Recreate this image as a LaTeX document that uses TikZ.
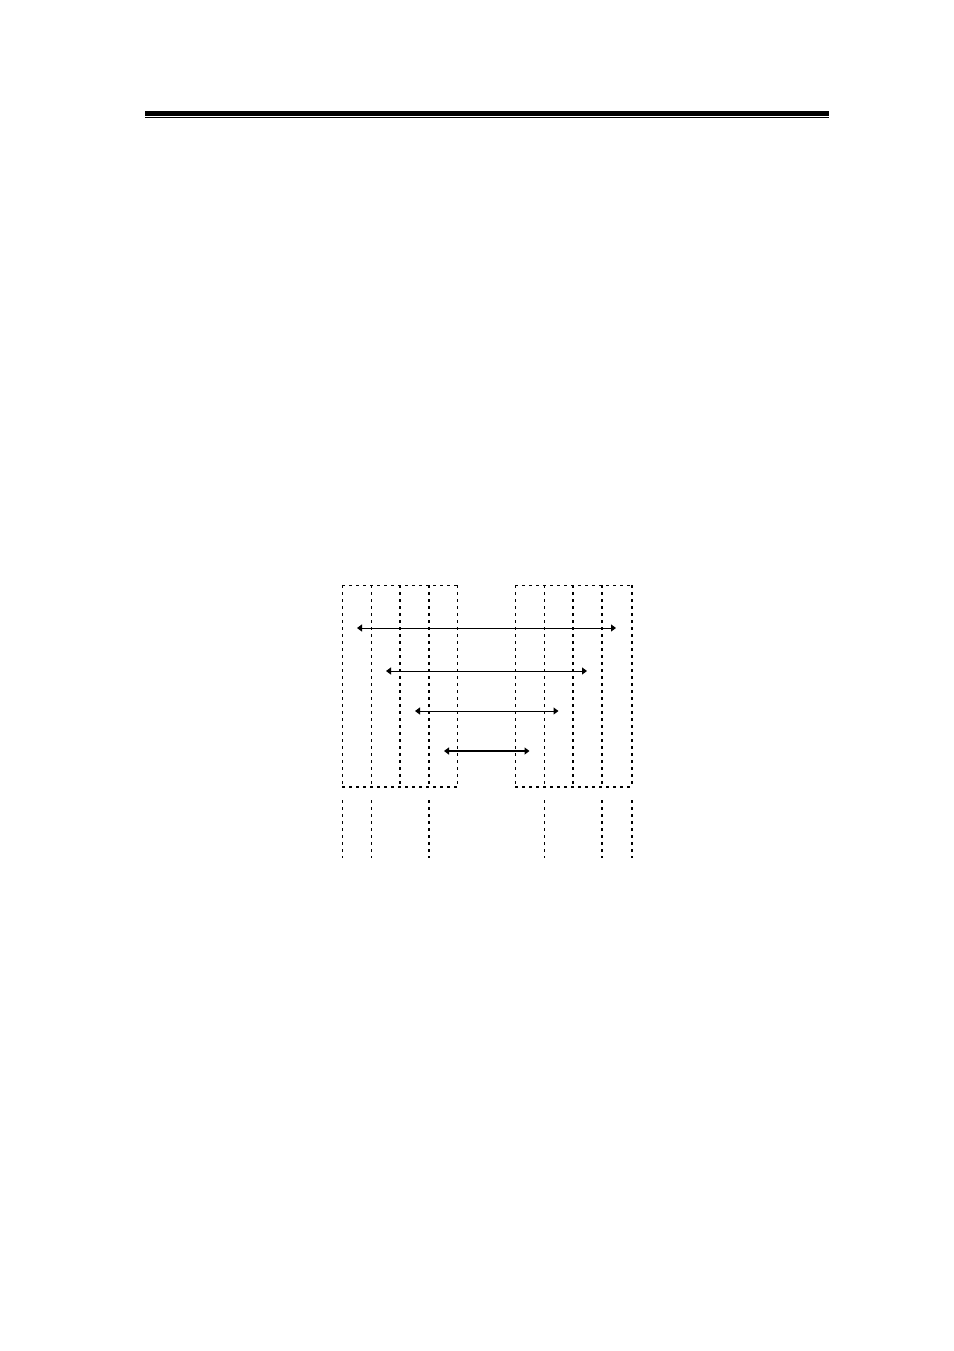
\documentclass[tikz,border=0pt]{standalone}
\usetikzlibrary{arrows.meta}

\begin{document}
\begin{tikzpicture}[x=0.5pt,y=-0.5pt,>={Triangle[length=2.5pt,width=3.5pt]},
  fine/.style={line width=0.5pt,dash pattern=on 1.5pt off 2pt},
  bold/.style={line width=1pt,dash pattern=on 1.5pt off 2pt}]
	  \useasboundingbox (0,0) rectangle (954,1351);
	  % rule at the head of the page
	  \fill (145,111) rectangle (829,116);
	  \draw[line width=0.75pt] (145,117.6) -- (829,117.6);
	  % the two boxes
	  \draw[fine] (342,585) -- (457,585);
	  \draw[fine] (515,585) -- (631.5,585);
	  \draw[bold] (342,787) -- (457,787);
	  \draw[bold] (515,787) -- (631.5,787);
	  \foreach \x/\s in {342/fine,371/fine,400/bold,429/bold,457/fine,
	                     515/fine,544/fine,573/bold,602/bold,631.5/bold}
	    \draw[\s] (\x,585) -- (\x,787);
	  % stubs below
	  \foreach \x/\s in {342/fine,371/fine,429/bold,544/fine,602/bold,631.5/bold}
	    \draw[\s] (\x,800) -- (\x,858);
	  % arrows
	  \coordinate (A1) at (357,628);  \coordinate (B1) at (616,628);
	  \coordinate (A2) at (386,671);  \coordinate (B2) at (587,671);
	  \coordinate (A3) at (415,711);  \coordinate (B3) at (558.5,711);
	  \coordinate (A4) at (444,751);  \coordinate (B4) at (529.5,751);
	  \path[<->,line width=0.5pt]
(A1) edge (B1)
(A2) edge (B2)
(A3) edge (B3)
;
	  \draw[<->,line width=1pt] (A4) -- (B4);
	\end{tikzpicture}
\end{document}
